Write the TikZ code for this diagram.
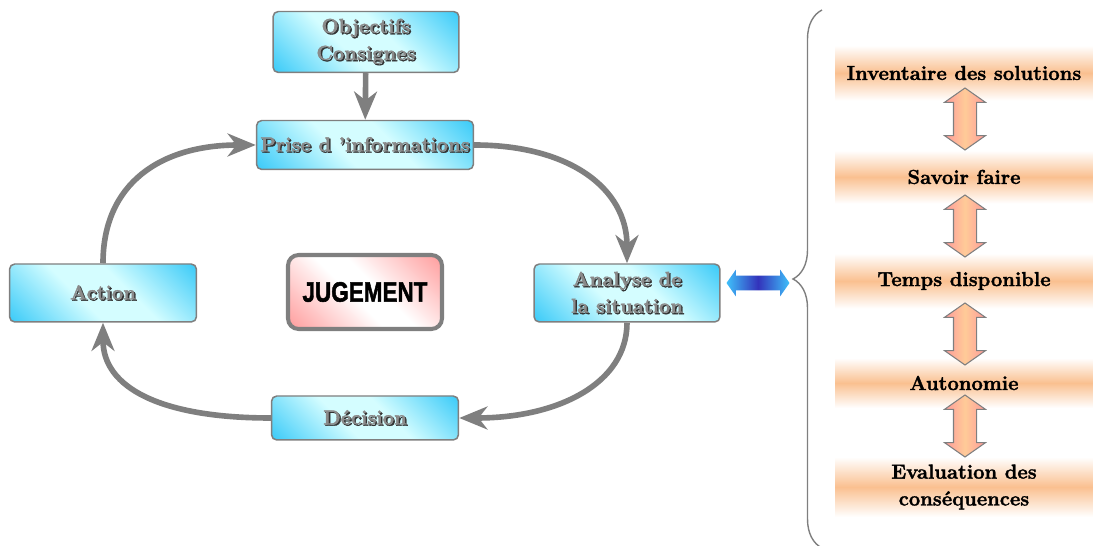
\documentclass[tikz,border=0pt]{standalone}
\usepackage{fontspec}
\setmainfont{Latin Modern Roman}[BoldFeatures={FakeBold=1.6}]
\newfontfamily\jfont{Liberation Sans}[BoldFeatures={FakeBold=2}]
\usetikzlibrary{arrows.meta,shapes.arrows,decorations.pathreplacing}

\definecolor{cydark}{HTML}{3CCBF8}
\definecolor{cylight}{HTML}{D4FDFF}
\definecolor{bordergray}{HTML}{7F7F7F}
\definecolor{txtgray}{HTML}{8A8A8A}
\definecolor{band}{HTML}{FAC090}
\definecolor{salmon}{HTML}{FF9A9A}
\definecolor{peach}{HTML}{FFCB98}
\definecolor{jpink}{HTML}{FF9C9C}
\definecolor{bluedark}{HTML}{3333BB}
\definecolor{bluelight}{HTML}{3FC0FA}

\pgfdeclarehorizontalshading{cyanband}{100bp}{color(0bp)=(cydark); color(15bp)=(cydark); color(42bp)=(cylight); color(58bp)=(cylight); color(85bp)=(cydark); color(100bp)=(cydark)}
\pgfdeclarehorizontalshading{pinkband}{100bp}{color(0bp)=(jpink); color(15bp)=(jpink); color(45bp)=(white); color(55bp)=(white); color(85bp)=(jpink); color(100bp)=(jpink)}

\newcommand\embos[1]{\makebox[0pt][l]{\hspace{0.8pt}\raisebox{-0.8pt}{\textcolor{black!80}{#1}}}\textcolor{txtgray}{#1}}

\tikzset{
  box/.style={draw=bordergray, line width=0.85pt, rounded corners=3pt, shading=cyanband, shading angle=45,
    align=center, inner sep=0pt, font=\fontsize{11.5}{15.3}\selectfont\bfseries},
  cyc/.style={draw=bordergray, line width=3.2pt, -{Stealth[length=16pt,width=13pt,inset=5pt]}},
  bandbox/.style={shape=rectangle, top color=white, bottom color=white, middle color=band,
    minimum width=5.16cm, align=center, inner sep=0pt, font=\fontsize{11.5}{15.3}\selectfont\bfseries},
  pinkarrow/.style={shape=double arrow, rotate=90, draw=bordergray, line width=0.6pt,
    left color=salmon, right color=salmon, middle color=peach, inner xsep=0pt, inner ysep=0.22cm,
    minimum height=1.24cm, double arrow head extend=0.18cm, double arrow tip angle=110}
}

\begin{document}
\begin{tikzpicture}[x=0.02cm,y=-0.02cm]
\useasboundingbox (0,0) rectangle (1093,546);

\node[box, minimum width=3.72cm, minimum height=1.22cm] (objectifs) at (366,42) {\embos{Objectifs}\\\embos{Consignes}};
\node[box, minimum width=4.34cm, minimum height=0.98cm] (prise) at (365,145) {\embos{Prise d 'informations}};
\node[box, minimum width=3.72cm, minimum height=1.16cm] (analyse) at (627,293) {\embos{Analyse de}\\\embos{la situation}};
\node[box, minimum width=3.74cm, minimum height=1.16cm] (action) at (103,293) {\embos{Action}};
\node[box, minimum width=3.74cm, minimum height=0.88cm] (decision) at (365,418) {\embos{Décision}};
\node[draw=bordergray, line width=2.3pt, rounded corners=6pt, shading=pinkband, shading angle=45,
  minimum width=3.08cm, minimum height=1.48cm, font=\jfont\bfseries\fontsize{16}{18}\selectfont] (jugement) at (365,292) {\scalebox{0.8}[1]{JUGEMENT}};

\draw[cyc] (objectifs) -- (prise);
\draw[cyc] (prise.east) .. controls +(95,0) and +(0,-75) .. (analyse.north);
\draw[cyc] (analyse.south) .. controls +(0,60) and +(100,0) .. (decision.east);
\draw[cyc] (decision.west) .. controls +(-110,0) and +(0,65) .. (action.south);
\draw[cyc] (action.north) .. controls +(0,-80) and +(-95,0) .. (prise.west);

\node[shape=double arrow, inner xsep=0pt, inner ysep=0.14cm, left color=bluelight, right color=bluelight, middle color=bluedark,
  minimum height=1.26cm, double arrow head extend=0.12cm, double arrow tip angle=110] (lien) at (758,283) {};

\draw[bordergray, line width=0.8pt, decorate, decoration={brace, amplitude=0.58cm}] (822,548) -- (822,10);

\node[bandbox, minimum height=1.1cm] (inv) at (964,73) {Inventaire des solutions};
\node[bandbox, minimum height=1.06cm] (savoir) at (964,177) {Savoir faire};
\node[bandbox, minimum height=1.1cm] (temps) at (964,281) {Temps disponible};
\node[bandbox, minimum height=1.0cm] (auto) at (964,383) {Autonomie};
\node[bandbox, minimum height=1.2cm] (evalc) at (964,487) {Evaluation des\\conséquences};

\node[pinkarrow] (f1) at (965,119) {};
\node[pinkarrow] (f2) at (965,226) {};
\node[pinkarrow] (f3) at (965,334) {};
\node[pinkarrow] (f4) at (965,426) {};
\end{tikzpicture}
\end{document}
